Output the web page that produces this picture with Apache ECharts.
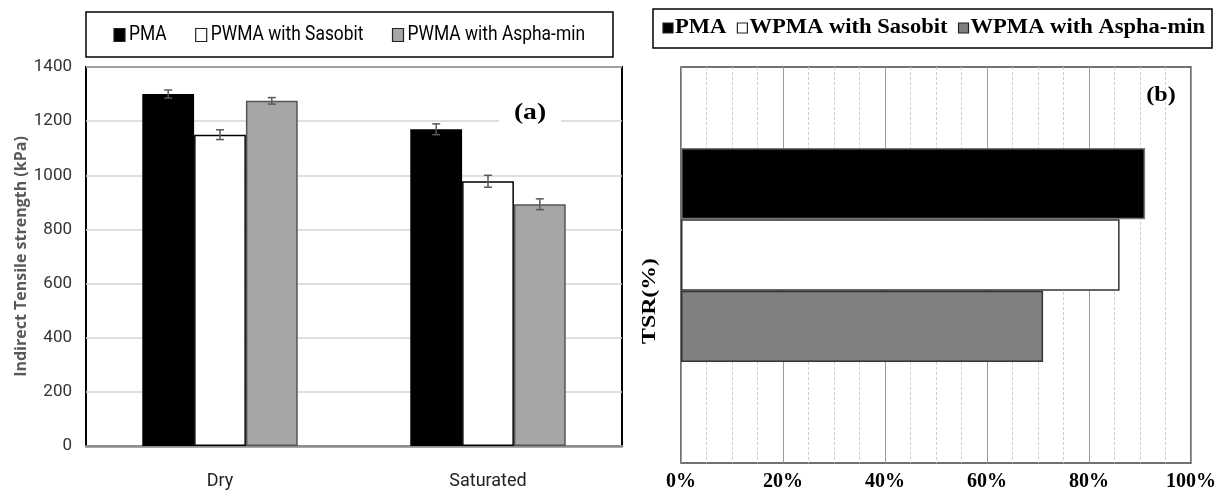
<!DOCTYPE html>
<html>
<head>
<meta charset="utf-8">
<script src="https://cdn.jsdelivr.net/npm/echarts@6/dist/echarts.min.js"></script>
<style>
  html, body { margin: 0; padding: 0; background: #fff; }
  #chart { width: 1225px; height: 496px; }
</style>
</head>
<body>
<div id="chart"></div>
<script>
// (a) indirect tensile strength
var conditions = ['Dry', 'Saturated'];
var seriesNamesA = ['PMA', 'PWMA with Sasobit', 'PWMA with Aspha-min'];
var pmaITS = [1300, 1170];
var sasobitITS = [1150, 978];
var asphaITS = [1275, 893];
var pmaErr = [15, 20];
var sasobitErr = [18, 22];
var asphaErr = [12, 20];

// (b) TSR
var tsrCategory = ['TSR(%)'];
var seriesNamesB = ['PMA', 'WPMA with Sasobit', 'WPMA with Aspha-min'];
var pmaTSR = [91];
var sasobitTSR = [86];
var asphaTSR = [71];

var sans = "Roboto, 'Noto Sans', sans-serif";
var serif = "'Liberation Serif', 'Times New Roman', serif";

var chart = echarts.init(document.getElementById('chart'));

var fillsA = ['#000000', '#ffffff', '#a6a6a6'];
var bordersA = ['#000000', '#000000', '#555555'];
var valsA = [pmaITS, sasobitITS, asphaITS];
var errsA = [pmaErr, sasobitErr, asphaErr];
var gapA = 0.42;

var fillsB = ['#000000', '#ffffff', '#808080'];
var bordersB = ['#777777', '#333333', '#333333'];
var valsB = [pmaTSR, sasobitTSR, asphaTSR];

var series = [];
seriesNamesA.forEach(function (n, i) {
  series.push({
    name: n, type: 'bar', xAxisIndex: 0, yAxisIndex: 0,
    data: valsA[i], barGap: '0%', barCategoryGap: (gapA * 100) + '%',
    itemStyle: { color: fillsA[i], borderColor: bordersA[i], borderWidth: 1.5 },
    emphasis: { disabled: true }
  });
});

// error bars for (a)
seriesNamesA.forEach(function (n, i) {
  var data = conditions.map(function (c, k) {
    return [k, valsA[i][k] - errsA[i][k], valsA[i][k] + errsA[i][k]];
  });
  series.push({
    type: 'custom', xAxisIndex: 0, yAxisIndex: 0, z: 5, silent: true,
    data: data,
    renderItem: function (params, api) {
      var band = api.size([1, 0])[0];
      var bw = band * (1 - gapA) / 3;
      var off = (i - 1) * bw;
      var lo = api.coord([api.value(0), api.value(1)]);
      var hi = api.coord([api.value(0), api.value(2)]);
      var x = lo[0] + off;
      var st = { stroke: '#595959', lineWidth: 1.5 };
      return { type: 'group', children: [
        { type: 'line', shape: { x1: x, y1: lo[1], x2: x, y2: hi[1] }, style: st },
        { type: 'line', shape: { x1: x - 4, y1: lo[1], x2: x + 4, y2: lo[1] }, style: st },
        { type: 'line', shape: { x1: x - 4, y1: hi[1], x2: x + 4, y2: hi[1] }, style: st }
      ]};
    }
  });
});

seriesNamesB.forEach(function (n, i) {
  series.push({
    name: n, type: 'bar', xAxisIndex: 2, yAxisIndex: 2,
    data: valsB[i], barGap: '0%', barCategoryGap: '46%',
    itemStyle: { color: fillsB[i], borderColor: bordersB[i], borderWidth: 1.5 },
    emphasis: { disabled: true }
  });
});

// hand-built legends (the originals are stretched sideways)
var ctx = document.createElement('canvas').getContext('2d');
function measure(txt, font) { ctx.font = font; return ctx.measureText(txt).width; }

function buildLegend(cfg) {
  var els = [];
  els.push({ type: 'rect', shape: { x: cfg.box[0], y: cfg.box[1], width: cfg.box[2], height: cfg.box[3] },
    style: { fill: '#fff', stroke: '#000', lineWidth: 1.5 }, z: 20 });
  var font = cfg.weight + ' ' + cfg.size + 'px ' + cfg.family;
  var widths = cfg.names.map(function (n) { return measure(n, font); });
  var fixed = cfg.names.length * cfg.textOff + (cfg.names.length - 1) * cfg.gap;
  var scale = (cfg.end - cfg.start - fixed) / widths.reduce(function (a, b) { return a + b; }, 0);
  var x = cfg.start;
  cfg.names.forEach(function (n, i) {
    els.push({ type: 'rect', shape: { x: x, y: cfg.cy - cfg.iconH / 2, width: cfg.iconW, height: cfg.iconH },
      style: { fill: cfg.fills[i], stroke: '#222', lineWidth: 1.2 }, z: 21 });
    els.push({ type: 'text', x: x + cfg.textOff, y: cfg.cy, scaleX: scale, z: 21,
      style: { text: n, fontFamily: cfg.family, fontSize: cfg.size, fontWeight: cfg.weight,
        fill: '#000', verticalAlign: 'middle', align: 'left' } });
    x += cfg.textOff + widths[i] * scale + cfg.gap;
  });
  return els;
}

var legendA = buildLegend({
  names: seriesNamesA, fills: fillsA, box: [86, 12, 527, 45],
  start: 114, end: 585, cy: 35, iconW: 11, iconH: 13, textOff: 15, gap: 29,
  family: sans, size: 21, weight: 'normal'
});
var legendB = buildLegend({
  names: seriesNamesB, fills: fillsB, box: [653, 9, 559, 39],
  start: 663, end: 1205, cy: 28, iconW: 10, iconH: 10, textOff: 12, gap: 11,
  family: serif, size: 20, weight: 'bold'
});

chart.setOption({
  animation: false,
  grid: [
    { left: 86, top: 67, width: 536, height: 379, show: true, borderColor: '#000', borderWidth: 2, backgroundColor: '#fff' },
    { left: 681, top: 67, width: 510, height: 396, show: true, borderColor: '#444', borderWidth: 1.5 },
    { left: 681, top: 57, width: 510, height: 396 }
  ],
  xAxis: [
    {
      type: 'category', gridIndex: 0, data: conditions,
      axisLine: { lineStyle: { color: '#8c8c8c', width: 2.5 } },
      axisTick: { show: false },
      axisLabel: { fontFamily: sans, fontSize: 18, color: '#222', margin: 26 }
    },
    {
      type: 'value', gridIndex: 1, min: 0, max: 100, interval: 20,
      axisLine: { show: false }, axisTick: { show: false },
      axisLabel: { fontFamily: serif, fontSize: 20, fontWeight: 'bold', color: '#000', margin: 9,
        formatter: function (v) { return v + '%'; } },
      splitLine: { show: true, lineStyle: { color: '#9a9a9a', width: 1 } },
      minorTick: { show: false, splitNumber: 4 },
      minorSplitLine: { show: true, lineStyle: { color: '#cfcfcf', type: [3, 2], width: 1 } }
    },
    {
      type: 'value', gridIndex: 2, min: 0, max: 100, show: false
    }
  ],
  yAxis: [
    {
      type: 'value', gridIndex: 0, min: 0, max: 1400, interval: 200,
      axisLine: { show: false }, axisTick: { show: false },
      axisLabel: { fontFamily: sans, fontSize: 17, color: '#333', margin: 14,
        formatter: function (v) { return String(v); } },
      splitLine: { lineStyle: { color: '#d4d4d4', width: 1.5 } },
      name: 'Indirect Tensile strength (kPa)', nameLocation: 'middle', nameGap: 56,
      nameTextStyle: { fontFamily: "'Open Sans', sans-serif", fontWeight: 'bold', fontSize: 16, color: '#595959' }
    },
    {
      type: 'category', gridIndex: 1, data: tsrCategory, show: false
    },
    {
      type: 'category', gridIndex: 2, data: tsrCategory, inverse: true, show: false
    }
  ],
  graphic: legendA.concat(legendB).concat([
    {
      type: 'rect', shape: { x: 499, y: 101, width: 62, height: 26 }, z: 9,
      style: { fill: '#fff' }
    },
    {
      type: 'text', x: 530, y: 113, scaleX: 1.2, z: 10,
      style: { text: '(a)', fontFamily: serif, fontWeight: 'bold', fontSize: 23, fill: '#000',
        align: 'center', verticalAlign: 'middle' }
    },
    {
      type: 'text', x: 1161, y: 96, scaleX: 1.15, z: 10,
      style: { text: '(b)', fontFamily: serif, fontWeight: 'bold', fontSize: 21, fill: '#000',
        align: 'center', verticalAlign: 'middle' }
    },
    {
      type: 'text', x: 650, y: 301, rotation: Math.PI / 2, scaleX: 1.25, z: 10,
      style: { text: 'TSR(%)', fontFamily: serif, fontWeight: 'bold', fontSize: 19, fill: '#000',
        align: 'center', verticalAlign: 'middle' }
    }
  ]),
  series: series
});
</script>
</body>
</html>
